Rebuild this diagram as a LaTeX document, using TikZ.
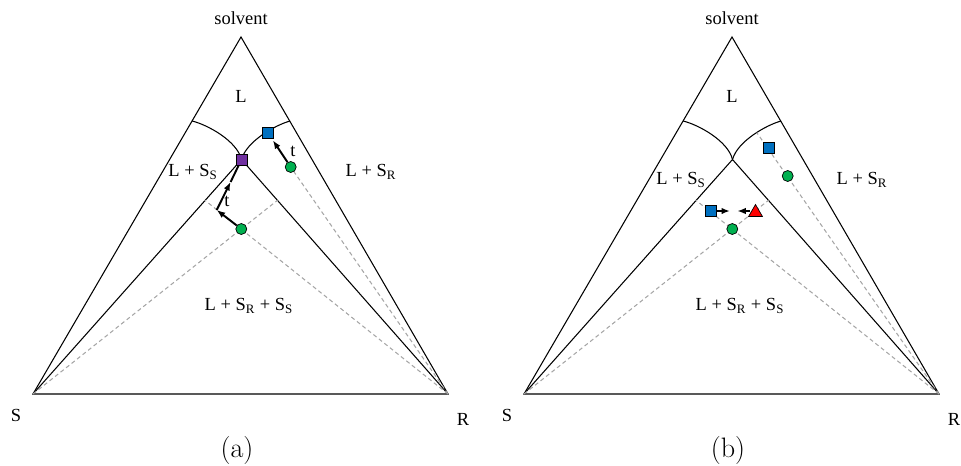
\documentclass[tikz,border=0pt]{standalone}
\usepackage{fontspec}
\newfontfamily\timesfont{Liberation Serif}
\usetikzlibrary{shapes.geometric,arrows.meta}
\definecolor{blueM}{RGB}{0,112,192}
\definecolor{purpleM}{RGB}{112,48,160}
\definecolor{greenM}{RGB}{0,176,80}
\definecolor{redM}{RGB}{255,0,0}

\begin{document}
\begin{tikzpicture}[x=0.2mm, y=-0.2mm,
    side/.style={line width=0.6pt},
    guide/.style={gray!70, dash pattern=on 2.3pt off 1.7pt, line width=0.6pt},
    flow/.style={line width=1.1pt, -{Latex[length=1.7mm,width=1.3mm]}},
    lbl/.style={font=\timesfont\fontsize{10.5}{12}\selectfont, inner sep=0pt},
    sq/.style={draw, line width=0.4pt, minimum size=2.2mm, inner sep=0pt},
    dot/.style={circle, draw, line width=0.4pt, fill=greenM, minimum size=2.2mm, inner sep=0pt},
    tri/.style={regular polygon, regular polygon sides=3, draw, line width=0.4pt,
                fill=redM, minimum size=3.2mm, inner sep=0pt}]
    \useasboundingbox (0,0) rectangle (961,465);

    % 1. Hai giản đồ pha (a) và (b)
    \foreach \dx/\p/\lx/\ly in {0/a/193/172, 491/b/190/180} {
      \begin{scope}[shift={(\dx,0)}]
        \coordinate (S\p) at (33,394);
        \coordinate (R\p) at (448,394);
        \coordinate (T\p) at (241,37);
        \coordinate (E\p) at (241.5,159.5);
        \coordinate (G\p) at (241.3,229);
        \coordinate (AL\p) at (192.2,121);
        \coordinate (AR\p) at (290,121);
        \coordinate (IS\p) at (277.5,200.3);
        \coordinate (IR\p) at (204.6,200);

        % cạnh tam giác và đường ranh giới
        \draw[side] (S\p) -- (R\p) -- (T\p) -- cycle;
        \draw[side] (S\p) -- (E\p) -- (R\p);
        \draw[side] (AL\p) .. controls (208,125) and (237,141) .. (E\p);
        \draw[side] (AR\p) .. controls (275.6,125) and (246.6,141) .. (E\p);

        % đường gióng nét đứt
        \draw[guide] (S\p) -- (IS\p);
        \draw[guide] (R\p) -- (IR\p);

        % nhãn
        \node[lbl] (solv\p) at (241,18) {solvent};
        \node[lbl] (L\p) at (241,96) {L};
        \node[lbl] (LS\p) at (\lx,\ly) {L + S\textsubscript{S}};
        \node[lbl] (LR\p) at (371,\ly) {L + S\textsubscript{R}};
        \node[lbl] (LRS\p) at (249,306) {L + S\textsubscript{R} + S\textsubscript{S}};
        \node[lbl] (vS\p) at (16,415) {S};
        \node[lbl] (vR\p) at (463,419) {R};
        \node[font=\fontsize{16}{18}\selectfont, inner sep=0pt] (cap\p) at (237,450) {(\p)};
      \end{scope}
    }

    % 2. Giản đồ (a)
    \coordinate (Ca) at (290.7,167);
    \coordinate (Ka) at (216.7,210);
    \coordinate (Ma) at (230.6,182);
    \draw[guide] (Ra) -- (Ca);
    \node[sq, fill=blueM] (Ba) at (268,133) {};
    \node[sq, fill=purpleM] (Pa) at (Ea) {};
    \node[dot] (C1a) at (Ca) {};
    \node[dot] (G1a) at (Ga) {};
    \draw[flow, shorten >=1pt] (C1a) -- (Ba);
    \draw[flow] (G1a) -- (Ka);
    \draw[flow] (Ka) -- (Ma);
    \draw[line width=1.1pt] (Ma) -- (Pa);
    \node[lbl] (t1a) at (293,151) {t};
    \node[lbl] (t2a) at (227,201) {t};

    % 3. Giản đồ (b)
    \begin{scope}[shift={(491,0)}]
      \coordinate (Xb) at (265.8,132.6);
      \coordinate (Cb) at (296.7,176);
      \coordinate (Hb) at (239,211);
      \coordinate (Jb) at (246.3,211);
      \draw[guide] (Rb) -- (Xb);
      \node[sq, fill=blueM] (Bb) at (278,148) {};
      \node[dot] (C1b) at (Cb) {};
      \node[dot] (G1b) at (Gb) {};
      \node[sq, fill=blueM] (Qb) at (220,211) {};
      \node[tri] (Tr) at (264.5,212.5) {};
      \draw[flow] (Qb) -- (Hb);
      \draw[flow] (Tr.west |- Jb) -- (Jb);
    \end{scope}
\end{tikzpicture}
\end{document}
